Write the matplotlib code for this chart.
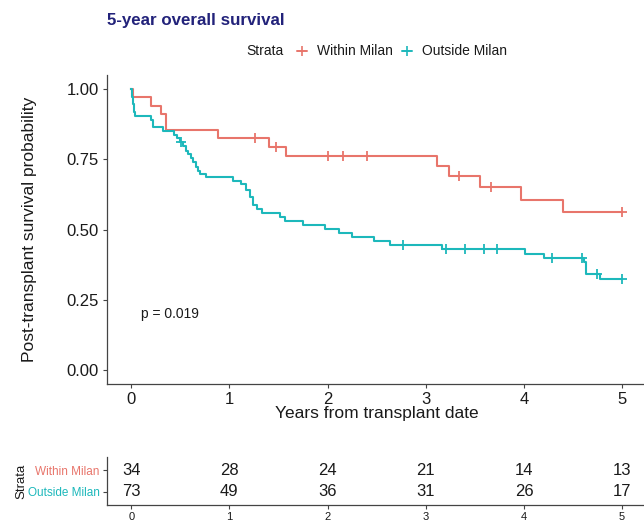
import numpy as np
import matplotlib
matplotlib.use('Agg')
import matplotlib.pyplot as plt
from matplotlib.lines import Line2D

plt.rcParams['font.family'] = ['Liberation Sans', 'DejaVu Sans']

# Within Milan: event times and survival after each step
within_t = [0, 0.02, 0.20, 0.30, 0.35, 0.88, 1.40, 1.58, 3.11, 3.24, 3.555, 3.97, 4.40, 5.0]
within_s = [1.0, 0.971, 0.941, 0.912, 0.853, 0.824, 0.795, 0.762, 0.726, 0.690, 0.650, 0.605, 0.561, 0.561]
within_cens = [1.26, 1.47, 2.0, 2.16, 2.40, 3.34, 3.66, 5.0]

# Outside Milan
outside_t = [0, 0.01, 0.02, 0.03, 0.04, 0.20, 0.22, 0.32, 0.44, 0.47, 0.50, 0.53, 0.56, 0.58,
             0.61, 0.63, 0.66, 0.68, 0.70, 0.76, 1.04, 1.12, 1.17, 1.21, 1.24, 1.28, 1.33,
             1.515, 1.566, 1.75, 1.97, 2.12, 2.25, 2.47, 2.64, 3.16, 4.01, 4.20, 4.61, 4.63,
             4.774, 5.0]
outside_s = [1.0, 0.973, 0.945, 0.918, 0.904, 0.890, 0.866, 0.852, 0.838, 0.824, 0.810, 0.796,
             0.781, 0.767, 0.753, 0.739, 0.724, 0.710, 0.696, 0.686, 0.674, 0.662, 0.640, 0.615,
             0.586, 0.573, 0.560, 0.546, 0.531, 0.517, 0.503, 0.489, 0.475, 0.460, 0.445, 0.431,
             0.414, 0.400, 0.385, 0.342, 0.323, 0.323]
outside_cens = [0.507, 2.765, 3.21, 3.395, 3.59, 3.73, 4.29, 4.59, 4.74, 5.0]

# numbers at risk
risk_years = [0, 1, 2, 3, 4, 5]
within_risk = [34, 28, 24, 21, 14, 13]
outside_risk = [73, 49, 36, 31, 26, 17]

red = '#E8756B'
teal = '#1DB8BB'
W, H = 644, 521


def step_value(times, surv, t):
    i = np.searchsorted(times, t, side='right') - 1
    return np.asarray(surv)[i]


fig = plt.figure(figsize=(W / 100, H / 100), dpi=100)

# ---- main survival plot ----
ax = fig.add_axes([106.7 / W, 1 - 384 / H, 540 / W, 309 / H])
for t, s, c, col in [(within_t, within_s, within_cens, red),
                     (outside_t, outside_s, outside_cens, teal)]:
    ax.step(t, s, where='post', color=col, lw=1.5)
    cv = [step_value(t, s, x) for x in c]
    ax.plot(c, cv, ls='none', marker='+', ms=7, mew=1.3, color=col)

ax.set_xlim(-0.25, 5.25)
ax.set_ylim(-0.05, 1.05)
ax.set_xticks(range(6))
ax.set_yticks([0, 0.25, 0.5, 0.75, 1.0])
ax.set_yticklabels(['0.00', '0.25', '0.50', '0.75', '1.00'])
for sp in ['top', 'right']:
    ax.spines[sp].set_visible(False)
for sp in ['left', 'bottom']:
    ax.spines[sp].set_color('#444444')
    ax.spines[sp].set_linewidth(0.9)
ax.tick_params(labelsize=12, length=3, width=0.8, color='#444444', labelcolor='#1a1a1a', pad=2.5)
ax.text(0.1, 0.2, 'p = 0.019', fontsize=10, ha='left', va='center', color='#1a1a1a')

fig.text(376.7 / W, 1 - 418 / H, 'Years from transplant date', ha='center', va='baseline',
         fontsize=12.5, color='#1a1a1a')
fig.text(30 / W, 1 - 229 / H, 'Post-transplant survival probability', rotation=90,
         ha='center', va='center', fontsize=12.5, color='#1a1a1a')

# ---- title and legend ----
fig.text(107 / W, 1 - 20.7 / H, '5-year overall survival', fontsize=12.2, fontweight='bold',
         color='#22227A', ha='left', va='center')
ly = 1 - 50.7 / H
fig.text(246.7 / W, ly, 'Strata', fontsize=10, va='center', color='#1a1a1a')
for x0, col, lab in [(301.7, red, 'Within Milan'), (406.7, teal, 'Outside Milan')]:
    fig.add_artist(Line2D([(x0 - 5) / W, (x0 + 5) / W], [ly, ly], color=col, lw=1.2,
                          transform=fig.transFigure))
    fig.add_artist(Line2D([x0 / W], [ly], marker='+', ms=7, mew=1.2, color=col,
                          transform=fig.transFigure))
    fig.text((x0 + 15) / W, ly, lab, fontsize=10, va='center', color='#1a1a1a')

# ---- risk table ----
ax2 = fig.add_axes([106.7 / W, 1 - 505 / H, 540 / W, 48 / H])
ax2.set_xlim(-0.25, 5.25)
ax2.set_ylim(0.4, 2.6)
for yr, a, b in zip(risk_years, within_risk, outside_risk):
    ax2.text(yr, 2, str(a), ha='center', va='center', fontsize=12, color='#1a1a1a')
    ax2.text(yr, 1, str(b), ha='center', va='center', fontsize=12, color='#1a1a1a')
ax2.set_xticks(risk_years)
ax2.set_yticks([1, 2])
ax2.set_yticklabels(['Outside Milan', 'Within Milan'])
ax2.get_yticklabels()[0].set_color(teal)
ax2.get_yticklabels()[1].set_color(red)
for sp in ['top', 'right']:
    ax2.spines[sp].set_visible(False)
for sp in ['left', 'bottom']:
    ax2.spines[sp].set_color('#444444')
    ax2.spines[sp].set_linewidth(0.9)
ax2.tick_params(axis='y', labelsize=8.5, length=3, width=0.8, color='#444444', pad=2)
ax2.tick_params(axis='x', labelsize=8, length=3, width=0.8, color='#444444',
                labelcolor='#1a1a1a', pad=2)
fig.text(21.7 / W, 1 - 481.7 / H, 'Strata', rotation=90, ha='center', va='center',
         fontsize=9.5, color='#1a1a1a')

fig.savefig('out.png', dpi=100)
